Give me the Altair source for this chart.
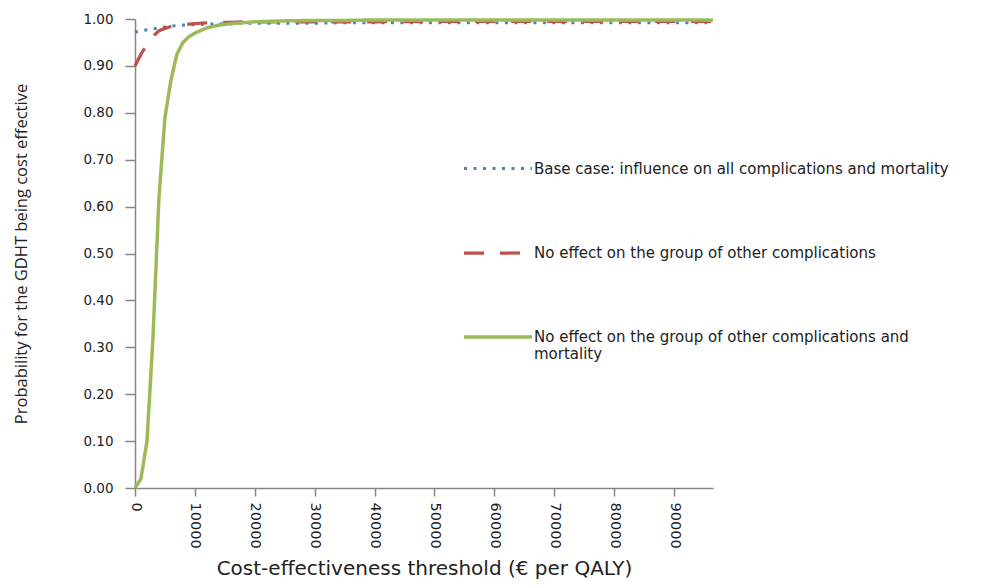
import altair as alt
import pandas as pd

thresholds = [0, 1000, 2000, 3000, 4000, 5000, 6000, 7000, 8000, 9000, 10000,
              12000, 14000, 16000, 18000, 20000, 25000, 30000, 35000, 40000,
              50000, 60000, 70000, 80000, 90000, 96500]

series_names = [
    "Base case: influence on all complications and mortality",
    "No effect on the group of other complications",
    "No effect on the group of other complications and mortality",
]

base_case = [0.972, 0.975, 0.977, 0.979, 0.981, 0.983, 0.985, 0.986, 0.987, 0.988, 0.988,
             0.989, 0.990, 0.990, 0.991, 0.991, 0.991, 0.991, 0.992, 0.992,
             0.992, 0.992, 0.992, 0.992, 0.992, 0.992]
no_other = [0.900, 0.925, 0.945, 0.963, 0.975, 0.980, 0.984, 0.986, 0.988, 0.989, 0.990,
            0.992, 0.993, 0.993, 0.994, 0.994, 0.994, 0.994, 0.994, 0.994,
            0.995, 0.995, 0.995, 0.995, 0.995, 0.995]
no_other_mort = [0.000, 0.020, 0.100, 0.320, 0.620, 0.790, 0.870, 0.925, 0.950, 0.962, 0.970,
                 0.981, 0.987, 0.990, 0.992, 0.994, 0.996, 0.997, 0.997, 0.998,
                 0.998, 0.998, 0.998, 0.998, 0.998, 0.998]

x_ticks = [0, 10000, 20000, 30000, 40000, 50000, 60000, 70000, 80000, 90000]
y_ticks = [0.0, 0.1, 0.2, 0.3, 0.4, 0.5, 0.6, 0.7, 0.8, 0.9, 1.0]

rows = []
for name, vals in zip(series_names, [base_case, no_other, no_other_mort]):
    for t, v in zip(thresholds, vals):
        rows.append({"threshold": t, "prob": v, "series": name})
df = pd.DataFrame(rows)

colors = ["#4F81BD", "#C0504D", "#9BBB59"]
dashes = [[3, 6.5], [20, 16], [1, 0]]
widths = [3, 3.5, 4.5]

label_expr = (
    "datum.label == '" + series_names[2] + "' ? "
    "['No effect on the group of other complications and', 'mortality'] : datum.label"
)

legend = alt.Legend(title=None, labelExpr=label_expr)

chart = alt.Chart(df).mark_line(strokeCap="butt").encode(
    x=alt.X("threshold:Q",
            scale=alt.Scale(domain=[0, 96500], nice=False),
            axis=alt.Axis(values=x_ticks, format="d", labelAngle=90, grid=False,
                          title="Cost-effectiveness threshold (€ per QALY)",
                          titleFontSize=20, titleFontWeight="normal", titlePadding=10,
                          titleFont="DejaVu Sans",
                          labelFontSize=14.5, tickSize=8, labelPadding=6)),
    y=alt.Y("prob:Q",
            scale=alt.Scale(domain=[0, 1], nice=False),
            axis=alt.Axis(values=y_ticks, format=".2f", grid=False,
                          title="Probability for the GDHT being cost effective",
                          titleFontSize=16.5, titleFontWeight="normal", titlePadding=53,
                          titleFont="Open Sans",
                          labelFontSize=13.5, tickSize=10, labelPadding=12)),
    color=alt.Color("series:N", scale=alt.Scale(domain=series_names, range=colors),
                    sort=series_names, legend=legend),
    strokeDash=alt.StrokeDash("series:N", scale=alt.Scale(domain=series_names, range=dashes),
                              sort=series_names, legend=legend),
    strokeWidth=alt.StrokeWidth("series:N", scale=alt.Scale(domain=series_names, range=widths),
                                legend=None),
).properties(
    width=578,
    height=469,
    padding={"left": 5, "top": 4, "right": 10, "bottom": 5},
).configure_view(
    stroke=None
).configure_axis(
    domainColor="#868686",
    tickColor="#868686",
    domainWidth=1.5,
    tickWidth=1.5,
    labelColor="#222222",
    titleColor="#222222",
    labelFont="DejaVu Sans",
).configure_legend(
    orient="none",
    legendX=327,
    legendY=114,
    symbolType="stroke",
    symbolSize=4624,
    symbolStrokeWidth=3.5,
    labelFont="DejaVu Sans",
    labelFontSize=15,
    labelColor="#222222",
    labelLimit=0,
    labelOffset=0,
    rowPadding=40,
)

chart.save("out.html", embed_options={"renderer": "svg", "actions": False})
